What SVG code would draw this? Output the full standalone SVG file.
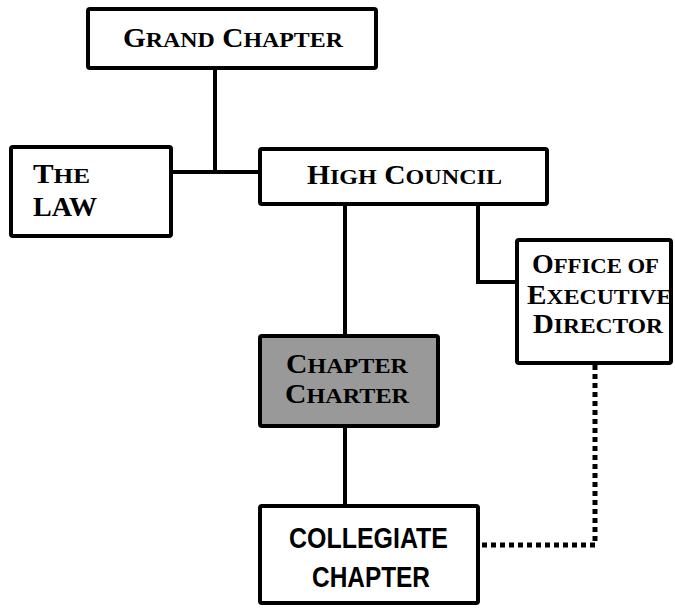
<svg xmlns="http://www.w3.org/2000/svg" width="675" height="609" viewBox="0 0 675 609">
<style>
.box{fill:#fff;stroke:#000;stroke-width:4;}
.gray{fill:#999;}
.ln{fill:none;stroke:#000;stroke-width:4;}
.dot{fill:none;stroke:#000;stroke-width:5;stroke-dasharray:5 4;}
.sc{font-family:"Liberation Serif","Times New Roman",serif;font-weight:bold;font-size:27px;fill:#000;}
.s{font-size:22px;}
.sans{font-family:"Liberation Sans Narrow","Liberation Sans",Arial,sans-serif;font-weight:bold;font-size:29px;fill:#000;}
</style>
<rect width="675" height="609" fill="#fff"/>
<g id="connectors">
<path class="ln" d="M215 70V172M173 172H258"/>
<path class="ln" d="M345 206V334"/>
<path class="ln" d="M478 206V282H515"/>
<path class="ln" d="M345 428V504"/>
<path class="dot" d="M595 365V545H480"/>
</g>
<g id="grand-chapter">
<rect class="box" x="88" y="9" width="288" height="59" rx="2"/>
<text class="sc" x="123" y="47" textLength="220" lengthAdjust="spacingAndGlyphs">G<tspan class="s">RAND</tspan> C<tspan class="s">HAPTER</tspan></text>
</g>
<g id="the-law">
<rect class="box" x="11" y="147" width="160" height="89" rx="2"/>
<text class="sc" x="33" y="183" textLength="57" lengthAdjust="spacingAndGlyphs">T<tspan class="s">HE</tspan></text>
<text class="sc" x="33" y="216" textLength="64" lengthAdjust="spacingAndGlyphs">LAW</text>
</g>
<g id="high-council">
<rect class="box" x="260" y="149" width="287" height="55" rx="2"/>
<text class="sc" x="307" y="184" textLength="195" lengthAdjust="spacingAndGlyphs">H<tspan class="s">IGH</tspan> C<tspan class="s">OUNCIL</tspan></text>
</g>
<g id="office-executive-director">
<rect class="box" x="517" y="240" width="154" height="123" rx="2"/>
<text class="sc" x="532" y="273" textLength="127" lengthAdjust="spacingAndGlyphs">O<tspan class="s">FFICE OF</tspan></text>
<text class="sc" x="527" y="304" textLength="145" lengthAdjust="spacingAndGlyphs">E<tspan class="s">XECUTIVE</tspan></text>
<text class="sc" x="533" y="333" textLength="130" lengthAdjust="spacingAndGlyphs">D<tspan class="s">IRECTOR</tspan></text>
</g>
<g id="chapter-charter">
<rect class="box gray" x="260" y="336" width="178" height="90" rx="2"/>
<text class="sc" x="286" y="373" textLength="122" lengthAdjust="spacingAndGlyphs">C<tspan class="s">HAPTER</tspan></text>
<text class="sc" x="285" y="403" textLength="124" lengthAdjust="spacingAndGlyphs">C<tspan class="s">HARTER</tspan></text>
</g>
<g id="collegiate-chapter">
<rect class="box" x="260" y="506" width="218" height="97" rx="2"/>
<text class="sans" x="289" y="548" textLength="159" lengthAdjust="spacingAndGlyphs">COLLEGIATE</text>
<text class="sans" x="312" y="587" textLength="118" lengthAdjust="spacingAndGlyphs">CHAPTER</text>
</g>
</svg>
